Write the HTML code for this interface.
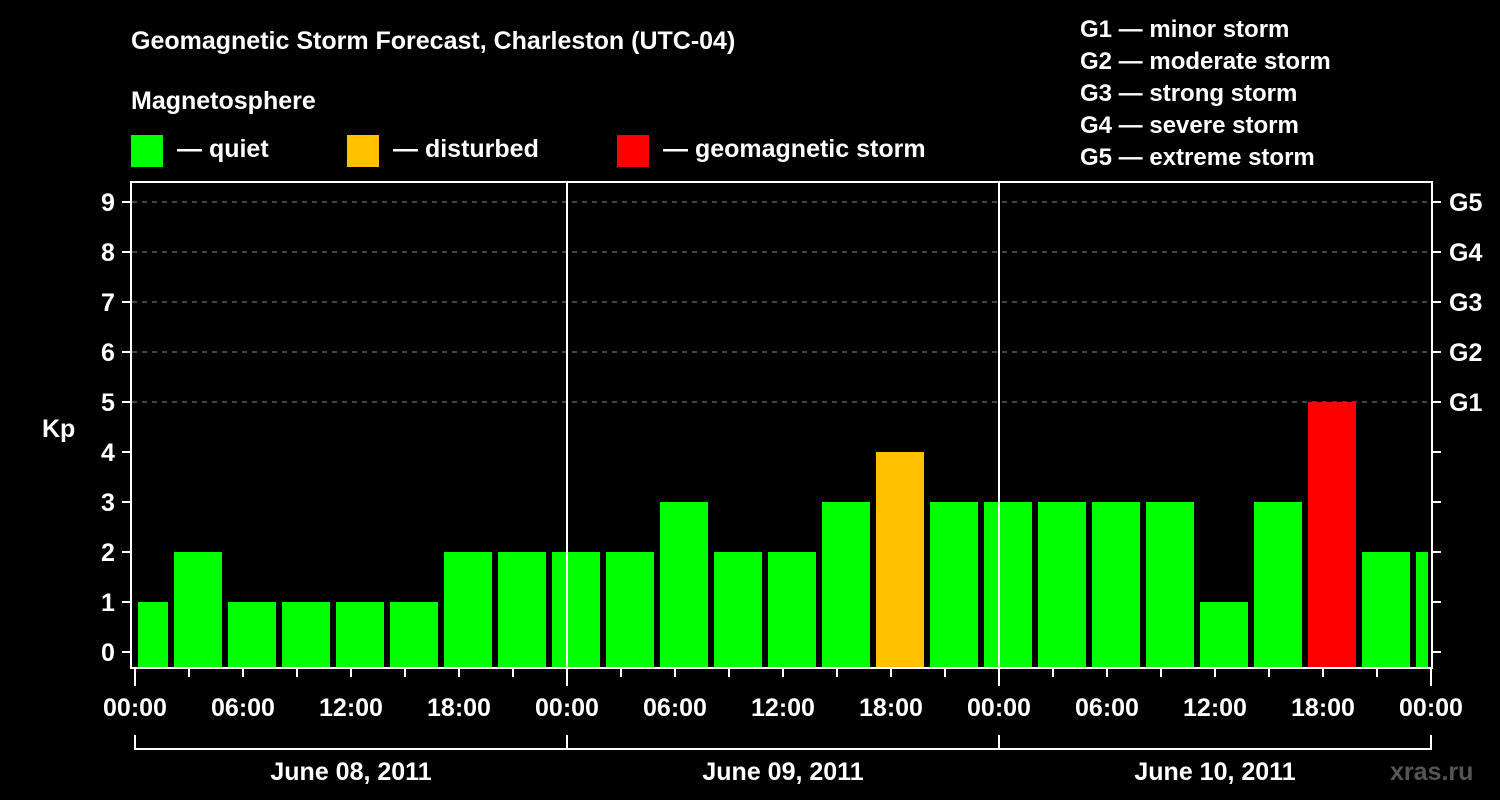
<!DOCTYPE html>
<html><head><meta charset="utf-8"><style>
body{margin:0;background:#000;}
svg{display:block;font-family:"Liberation Sans",sans-serif;font-weight:bold;}
</style></head><body>
<svg width="1500" height="800" viewBox="0 0 1500 800">
<rect width="1500" height="800" fill="#000"/>
<text x="131" y="49" fill="#fff" font-size="25">Geomagnetic Storm Forecast, Charleston (UTC-04)</text>
<text x="131" y="109" fill="#fff" font-size="25">Magnetosphere</text>
<g><rect x="131" y="135" width="32" height="32" fill="#00ff00"/><text x="177" y="157" fill="#fff" font-size="25">— quiet</text></g>
<g><rect x="347" y="135" width="32" height="32" fill="#ffc000"/><text x="393" y="157" fill="#fff" font-size="25">— disturbed</text></g>
<g><rect x="617" y="135" width="32" height="32" fill="#ff0000"/><text x="663" y="157" fill="#fff" font-size="25">— geomagnetic storm</text></g>
<g fill="#fff" font-size="24">
<text x="1080" y="37">G1 — minor storm</text>
<text x="1080" y="69">G2 — moderate storm</text>
<text x="1080" y="101">G3 — strong storm</text>
<text x="1080" y="133">G4 — severe storm</text>
<text x="1080" y="165">G5 — extreme storm</text>
</g>
<text x="42" y="437" fill="#fff" font-size="25">Kp</text>
<text x="1390" y="780" fill="#555" font-size="25">xras.ru</text>
<g id="grid"></g>
<g id="bars"></g>
<g id="axes"></g>
</svg>
<script>
const kpValues=[1,2,1,1,1,1,2,2,2,2,3,2,2,3,4,3,3,3,3,3,1,3,5,2,2];
const yTicks=[0,1,2,3,4,5,6,7,8,9];
const gLabels=["G1","G2","G3","G4","G5"];
const hourLabels=["00:00","06:00","12:00","18:00","00:00","06:00","12:00","18:00","00:00","06:00","12:00","18:00","00:00"];
const dayLabels=["June 08, 2011","June 09, 2011","June 10, 2011"];
const ns="http://www.w3.org/2000/svg";
const X0=135,PXH=18,TOTAL=72,Y0=652,PXK=50,BOTTOM=668;
const xs=h=>X0+Math.max(0,Math.min(TOTAL,h))*PXH;
const ys=v=>Y0-v*PXK;
function mk(tag,attrs,parent){const e=document.createElementNS(ns,tag);for(const k in attrs)e.setAttribute(k,attrs[k]);parent.appendChild(e);return e;}
const grid=document.getElementById('grid'),bars=document.getElementById('bars'),axes=document.getElementById('axes');
function color(v){return v>=5?"#ff0000":v>=4?"#ffc000":"#00ff00";}
kpValues.forEach((v,i)=>{
  const h0=-1+3*i,h1=h0+3;
  const x0=xs(h0)+3,x1=xs(h1)-3;
  const r=mk('rect',{x:x0,y:ys(v),width:Math.max(0,x1-x0),height:BOTTOM-ys(v),fill:color(v)},bars);
  
  
});
yTicks.forEach(t=>{
  const y=ys(t);
  if(t>=5){const l=mk('line',{x1:132,x2:1431,y1:y,y2:y,stroke:'#888','stroke-dasharray':'5,5','stroke-width':1},grid);
  
  }
  mk('line',{x1:122,x2:131,y1:y,y2:y,stroke:'#fff','stroke-width':2},axes);
  mk('line',{x1:1432,x2:1441,y1:y,y2:y,stroke:'#fff','stroke-width':2},axes);
  const tx=mk('text',{x:108,y:y+9,fill:'#fff','font-size':25,'text-anchor':'middle'},axes);
  tx.textContent=t;
  
  
  if(t>=5){const g=mk('text',{x:1449,y:y+9,fill:'#fff','font-size':25},axes);
  g.textContent=gLabels[t-5];
  
  }
});
// frame
const f=mk('rect',{x:131,y:182,width:1301,height:486,fill:'none',stroke:'#fff','stroke-width':2},axes);


[24,48].forEach(h=>{mk('line',{x1:xs(h),x2:xs(h),y1:182,y2:668,stroke:'#fff','stroke-width':2},axes);});
for(let h=0;h<=72;h+=3){
  const major=h%24===0;
  mk('line',{x1:xs(h),x2:xs(h),y1:668,y2:major?686:677,stroke:'#fff','stroke-width':2},axes);
}
hourLabels.forEach((s,i)=>{
  const t=mk('text',{x:xs(i*6),y:716,fill:'#fff','font-size':25,'text-anchor':'middle'},axes);
  t.textContent=s;
  
  
});
mk('line',{x1:xs(0),x2:xs(72),y1:749,y2:749,stroke:'#fff','stroke-width':2},axes);
for(let d=0;d<=3;d++)mk('line',{x1:xs(d*24),x2:xs(d*24),y1:735,y2:750,stroke:'#fff','stroke-width':2},axes);
dayLabels.forEach((s,i)=>{
  const t=mk('text',{x:xs(i*24+12),y:780,fill:'#fff','font-size':25,'text-anchor':'middle'},axes);
  t.textContent=s;
  
  
});
</script>
</body></html>
